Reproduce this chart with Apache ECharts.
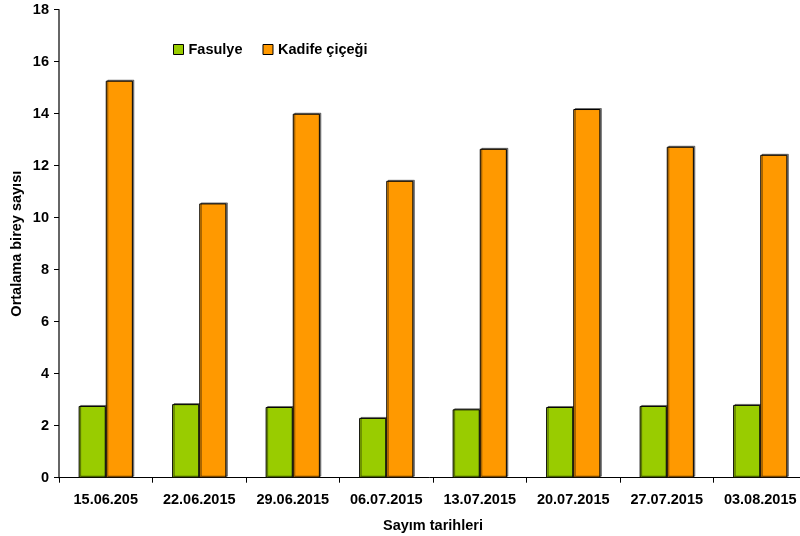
<!DOCTYPE html>
<html><head><meta charset="utf-8">
<script src="https://cdn.jsdelivr.net/npm/echarts@6/dist/echarts.min.js"></script>
<style>html,body{margin:0;padding:0;background:#fff}#c{width:800px;height:536px}</style>
</head><body><div id="c"></div>
<script>
var categories = ['15.06.205','22.06.2015','29.06.2015','06.07.2015','13.07.2015','20.07.2015','27.07.2015','03.08.2015'];
var fasulye = [2.76, 2.83, 2.72, 2.30, 2.63, 2.72, 2.76, 2.80];
var kadife = [15.27, 10.55, 14.0, 11.42, 12.65, 14.18, 12.73, 12.42];
var yTicks = [0, 2, 4, 6, 8, 10, 12, 14, 16, 18];
var seriesNames = ['Fasulye', 'Kadife çiçeği'];
var FONT = 'Liberation Sans, Arial, sans-serif';
var FS = 14.5;
var chart = echarts.init(document.getElementById('c'), null, {renderer:'canvas'});
var barStyle = function(c){ return {color:c, borderColor:'#000', borderWidth:1, shadowColor:'rgba(0,0,0,0.45)', shadowOffsetX:1.5, shadowOffsetY:-1, shadowBlur:0}; };
chart.setOption({
  animation:false,
  backgroundColor:'#fff',
  grid:{left:59, right:-7, top:9.7, bottom:58.3, containLabel:false, outerBoundsMode:'none'},
  legend:{
    data:seriesNames, left:168, top:37, itemWidth:10, itemHeight:10, itemGap:20,
    icon:'rect',
    textStyle:{fontFamily:FONT, fontWeight:'bold', fontSize:FS, color:'#000'},
    itemStyle:{borderColor:'#000', borderWidth:1}
  },
  xAxis:{
    type:'category', data:categories,
    name:'Sayım tarihleri', nameLocation:'middle', nameGap:41, nameMoveOverlap:false,
    nameTextStyle:{fontFamily:FONT, fontWeight:'bold', fontSize:FS, color:'#000'},
    axisLine:{lineStyle:{color:'#000', width:1}},
    axisTick:{show:true, length:5, lineStyle:{color:'#000'}},
    axisLabel:{fontFamily:FONT, fontWeight:'bold', fontSize:FS, color:'#000', margin:15, interval:0},
    splitLine:{show:false}
  },
  yAxis:{
    type:'value', min:yTicks[0], max:yTicks[yTicks.length-1], interval:2,
    name:'Ortalama birey sayısı', nameLocation:'middle', nameGap:35, nameMoveOverlap:false,
    nameTextStyle:{fontFamily:FONT, fontWeight:'bold', fontSize:FS, color:'#000'},
    axisLine:{show:true, lineStyle:{color:'#333', width:1.5}},
    axisTick:{show:true, length:5, lineStyle:{color:'#000'}},
    axisLabel:{fontFamily:FONT, fontWeight:'bold', fontSize:FS, color:'#000', margin:10},
    splitLine:{show:false}
  },
  series:[
    {name:seriesNames[0], type:'bar', data:fasulye, barGap:'0%', barCategoryGap:'42%', itemStyle:barStyle('#99CC00')},
    {name:seriesNames[1], type:'bar', data:kadife, barGap:'0%', barCategoryGap:'42%', itemStyle:barStyle('#FF9900')}
  ]
});
</script></body></html>
